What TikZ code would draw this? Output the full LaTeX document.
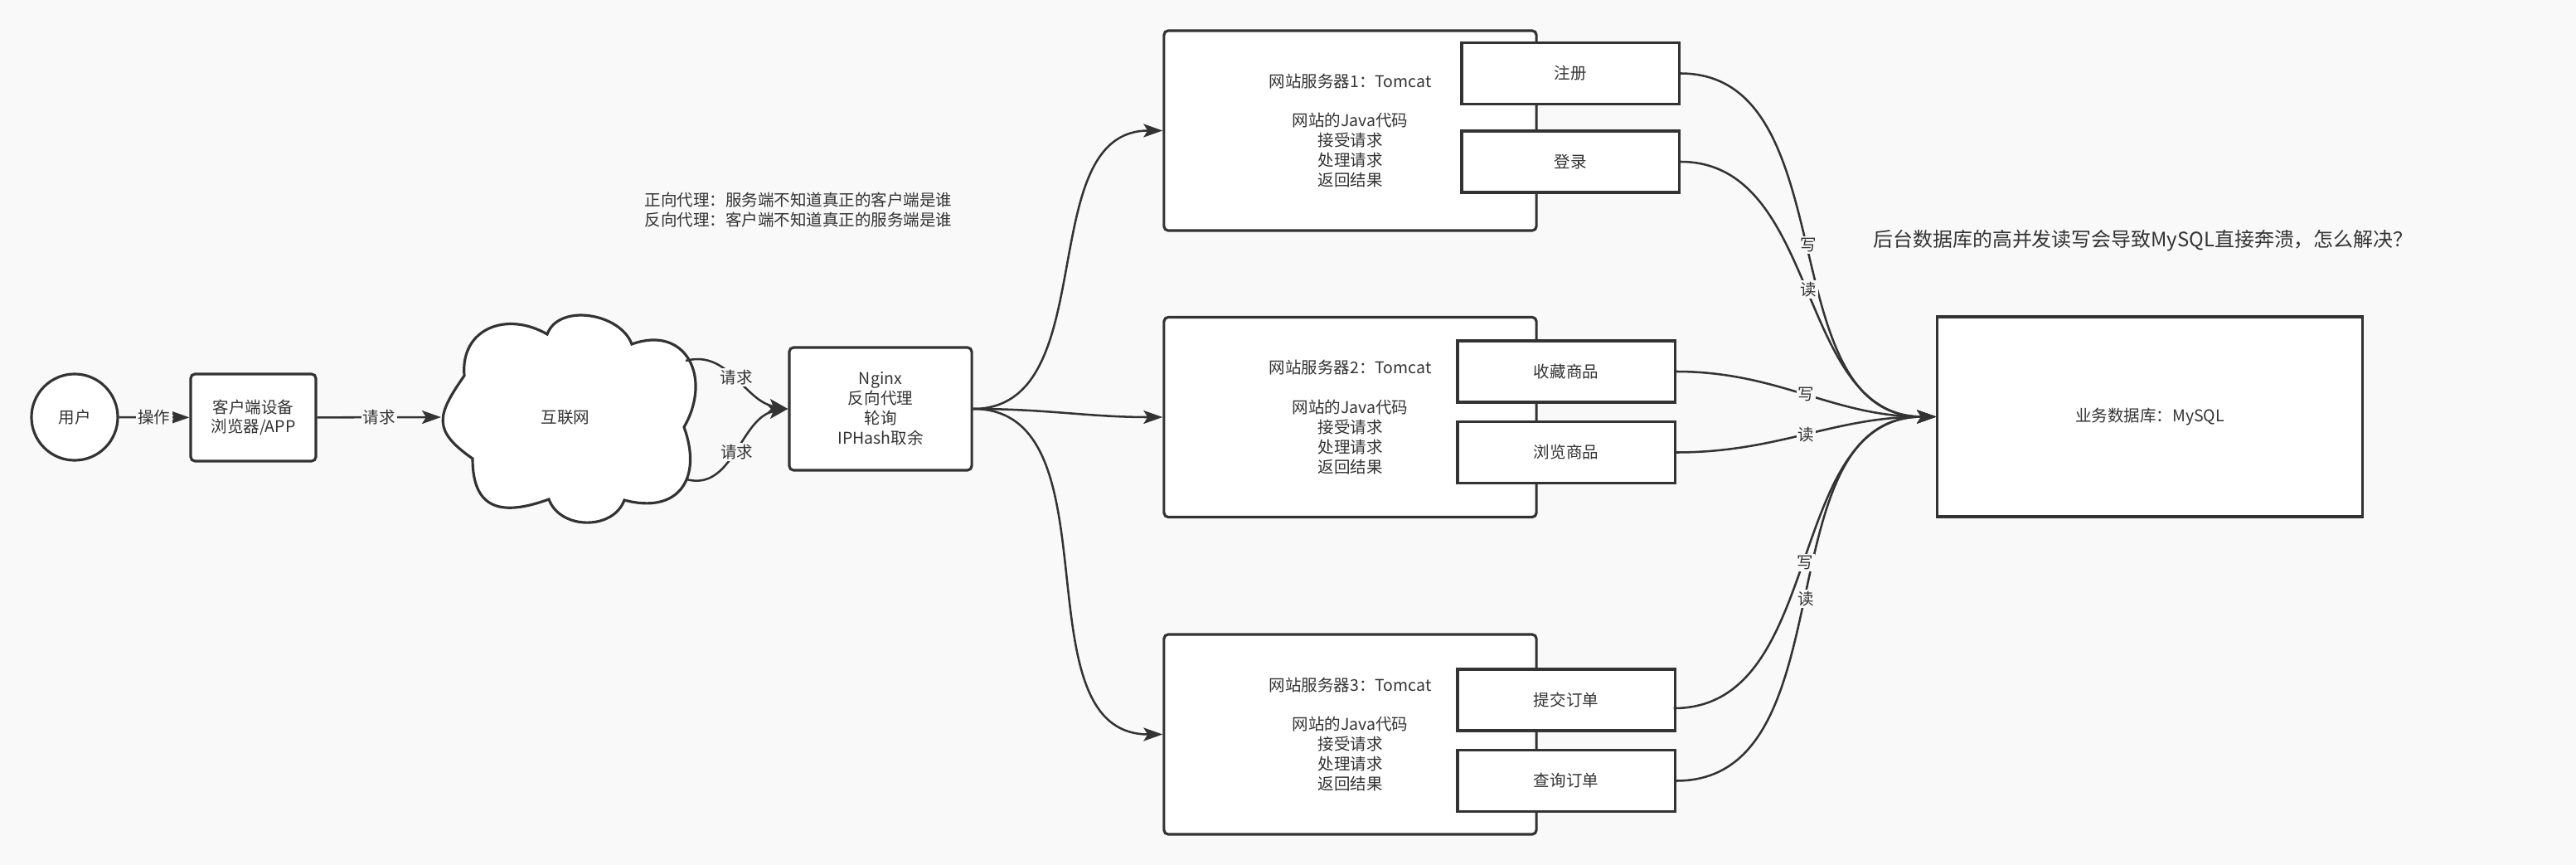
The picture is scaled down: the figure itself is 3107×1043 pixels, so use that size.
\documentclass[tikz,border=0pt]{standalone}
\usepackage{fontspec}
\setmainfont{Noto Sans CJK SC}
\usepackage{xcolor}
\usetikzlibrary{arrows.meta,positioning}

\definecolor{ink}{RGB}{51,51,51}
\definecolor{paper}{RGB}{249,249,249}

\begin{document}
\begin{tikzpicture}[
    x=0.01cm, y=0.01cm,
    every node/.style={font=\fontsize{5.55}{6.8}\selectfont, text=ink},
    box/.style={draw=ink, fill=white, line width=0.9pt, rounded corners=1.5pt, align=center, inner sep=0pt},
    sqbox/.style={draw=ink, fill=white, line width=0.9pt, align=center, inner sep=0pt},
    subbox/.style={sqbox, minimum width=2.62cm, minimum height=0.74cm},
    srvbox/.style={box, minimum width=4.49cm, minimum height=2.41cm},
    lbl/.style={fill=paper, inner sep=0.6pt},
    arr/.style={-{Stealth[length=2.3mm, width=1.6mm, inset=0.5mm]}, draw=ink, line width=0.72pt}
]
  \fill[paper] (0,0) rectangle (3107,-1043);
  \useasboundingbox (0,0) rectangle (3107,-1043);

  % cloud
  \draw[ink, fill=white, line width=0.9pt]
    (560,-453) to[out=95,in=150,looseness=1.3] (660,-403)
    to[out=70,in=110] (762,-415)
    to[out=20,in=60,looseness=1.5] (825,-515)
    to[out=-70,in=-15,looseness=1.5] (753,-603)
    to[out=-110,in=-70,looseness=1.1] (662,-602)
    to[out=-160,in=-90,looseness=1.5] (570,-553)
    to[out=145,in=-125,looseness=1.5] (560,-453) -- cycle;
  \node (inet) at (682,-503) {互联网};
  \coordinate (inetW) at (532,-503);
  \coordinate (inetNE) at (827,-435);
  \coordinate (inetSE) at (828,-578);

  \node[circle, draw=ink, fill=white, line width=0.9pt, minimum size=1.04cm, inner sep=0pt] (user) at (90,-503) {用户};
  \node[box, minimum width=1.51cm, minimum height=1.05cm] (client) at (305.5,-503.5) {客户端设备\\浏览器/APP};
  \node[box, minimum width=2.2cm, minimum height=1.48cm] (nginx) at (1062,-493) {Nginx\\反向代理\\轮询\\IPHash取余};

  \node[srvbox] (srv1) at (1628.5,-157.5) {网站服务器1：Tomcat\\[6.8pt]网站的Java代码\\接受请求\\处理请求\\返回结果};
  \node[srvbox] (srv2) at (1628.5,-503) {网站服务器2：Tomcat\\[6.8pt]网站的Java代码\\接受请求\\处理请求\\返回结果};
  \node[srvbox] (srv3) at (1628.5,-885.5) {网站服务器3：Tomcat\\[6.8pt]网站的Java代码\\接受请求\\处理请求\\返回结果};

  \node[subbox] (reg)    at (1894,-88.5)  {注册};
  \node[subbox] (login)  at (1894,-195)   {登录};
  \node[subbox] (fav)    at (1889,-448)   {收藏商品};
  \node[subbox] (browse) at (1889,-545.5) {浏览商品};
  \node[subbox] (submit) at (1889,-844)   {提交订单};
  \node[subbox] (query)  at (1889,-941.5) {查询订单};

  \node[sqbox, minimum width=5.12cm, minimum height=2.41cm] (db) at (2593,-502.5) {业务数据库：MySQL};

  \node[align=left] (proxy) at (963,-253.5) {正向代理：服务端不知道真正的客户端是谁\\反向代理：客户端不知道真正的服务端是谁};
  \node[font=\fontsize{6.8}{8}\selectfont] (question) at (2585,-290) {后台数据库的高并发读写会导致MySQL直接奔溃，怎么解决？};

  % connectors
  \draw[arr] (user) -- node[lbl] {操作} (client);
  \draw[arr] (client) -- node[lbl] {请求} (inetW);
  \draw[arr] (inetNE) to[out=15,in=170] node[lbl, midway] {请求} (nginx.west);
  \draw[arr] (inetSE) to[out=-15,in=190] node[lbl, midway] {请求} (nginx.west);

  \foreach \s in {1,2,3}{
    \draw[arr] (nginx.east) to[out=0,in=180] (srv\s.west);
  }

  \foreach \s/\w in {reg/写, login/读, fav/写, browse/读, query/读}{
    \draw[arr] (\s.east) to[out=0,in=180] node[lbl, midway] {\w} (db.west);
  }
  \draw[arr] ([shift={(-3,-10)}]submit.east) to[out=0,in=180] node[lbl, midway] {写} (db.west);
\end{tikzpicture}
\end{document}
